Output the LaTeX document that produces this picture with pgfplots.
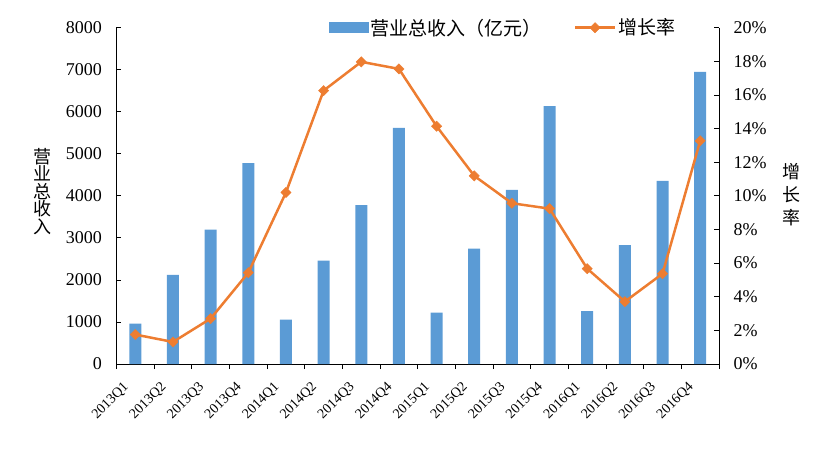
\documentclass[border=0pt]{standalone}
\usepackage{fontspec}
\setmainfont{Liberation Serif}
\newfontfamily\cjk{Noto Sans CJK SC}
\usepackage{pgfplots}
\usepackage{pgfplotstable}
\pgfplotsset{compat=1.18}
\definecolor{barblue}{HTML}{5B9BD5}
\definecolor{lineorange}{HTML}{ED7D31}

% quarter index, revenue (100m yuan), growth rate (%)
\pgfplotstableread{
idx rev rate
0 960 1.75
1 2120 1.31
2 3195 2.70
3 4780 5.43
4 1055 10.20
5 2460 16.26
6 3780 17.97
7 5620 17.55
8 1220 14.14
9 2745 11.19
10 4140 9.56
11 6135 9.24
12 1260 5.67
13 2830 3.71
14 4355 5.37
15 6950 13.27
}\datatable

\pgfplotsset{
  common/.style={
    scale only axis, width=602.5pt, height=336.3pt,
    at={(0,0)}, anchor=south west,
    xmin=-0.5, xmax=15.5,
    tick align=inside, major tick length=5pt, minor tick length=5pt,
    axis line style={black, line width=0.8pt},
    every tick/.style={black, line width=0.8pt},
    yticklabel style={font=\fontsize{18}{20}\selectfont},
    /pgf/number format/assume math mode=true,
    /pgf/number format/1000 sep={},
    clip=false,
  },
  lineleg/.style={legend image code/.code={%
    \draw[mark repeat=2,mark phase=2,##1] plot coordinates {(0pt,0pt) (20pt,0pt) (40pt,0pt)};}},
}

\begin{document}
\begin{tikzpicture}
\useasboundingbox (-116.5pt,-86pt) rectangle (716.5pt,364pt);
\begin{axis}[common,
  ymin=0, ymax=8000, ytick={0,1000,...,8000},
  scaled y ticks=false,
  axis x line*=bottom, axis y line*=left,
  xtick={0,...,15},
  xticklabels={2013Q1,2013Q2,2013Q3,2013Q4,2014Q1,2014Q2,2014Q3,2014Q4,
               2015Q1,2015Q2,2015Q3,2015Q4,2016Q1,2016Q2,2016Q3,2016Q4},
  major x tick style={draw=none},
  minor xtick={-0.5,0.5,...,15.5},
  xticklabel style={font=\fontsize{14}{16}\selectfont, xshift=-13pt, yshift=-12pt,
    rotate=45, anchor=north east, inner sep=0pt},
  yticklabel style={xshift=-11pt},
  ybar, bar width=12pt,
]
\addplot[fill=barblue, draw=none] table[x=idx,y=rev]{\datatable};
\node[font=\cjk\fontsize{18}{17.5}\selectfont, align=center] at (rel axis cs:-0.122,0.514) {营\\业\\总\\收\\入};
\end{axis}
\begin{axis}[common,
  ymin=0, ymax=20, ytick={0,2,...,20},
  axis y line*=right, axis x line=none,
  yticklabel={\pgfmathprintnumber{\tick}\%},
  yticklabel style={xshift=11pt},
  legend style={at={(0.642,1)}, anchor=center, draw=none, fill=none,
    legend columns=2, font=\cjk\fontsize{19}{21}\selectfont,
    /tikz/every even column/.append style={column sep=30pt}},
]
\addlegendimage{legend image code/.code={\fill[barblue] (0pt,-5pt) rectangle (39pt,5pt);}}
\addlegendentry{营业总收入（亿元）}
\addplot[lineorange, line width=2.5pt, mark=square*, mark size=3.6pt,
  mark options={solid, fill=lineorange, line width=0.5pt, rotate=45}, lineleg]
  table[x=idx,y=rate]{\datatable};
\addlegendentry{增长率}
\node[font=\cjk\fontsize{18}{23}\selectfont, align=center] at (rel axis cs:1.1195,0.5025) {增\\长\\率};
\end{axis}
\end{tikzpicture}
\end{document}
